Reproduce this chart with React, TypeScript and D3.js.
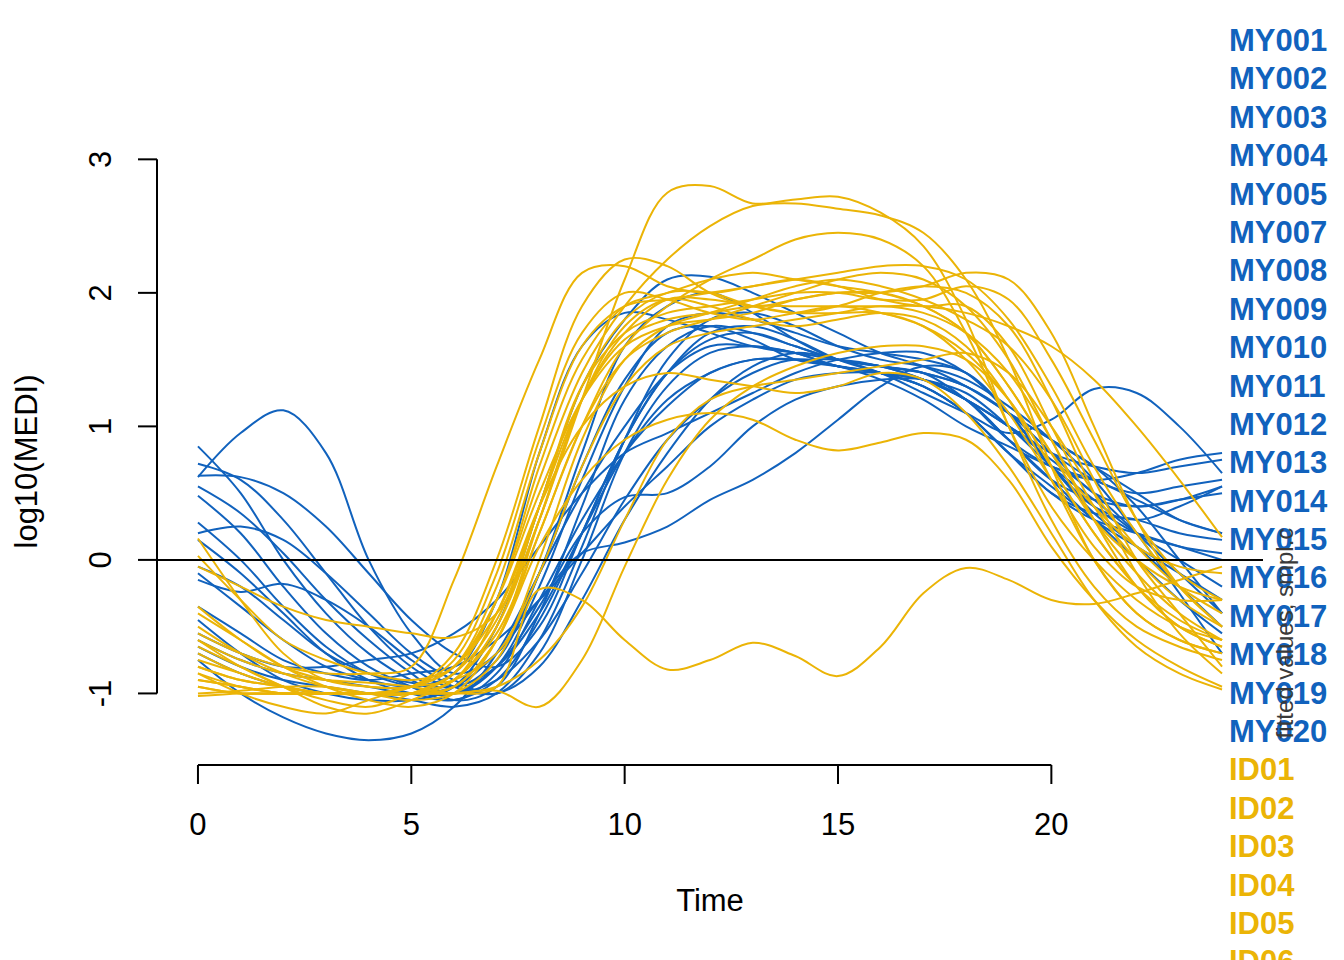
import React from 'react';
import * as d3 from 'd3';

// sampling times (hours) shared by every fitted curve
const times = [0, 1, 2, 3, 4, 5, 6, 7, 8, 9, 10, 11, 12, 13, 14, 15, 16, 17, 18, 19, 20, 21, 22, 23, 24];

const myNames = ['MY001', 'MY002', 'MY003', 'MY004', 'MY005', 'MY007', 'MY008', 'MY009', 'MY010', 'MY011',
  'MY012', 'MY013', 'MY014', 'MY015', 'MY016', 'MY017', 'MY018', 'MY019', 'MY020'];

// only the first six ID labels fit on the page
const idNames = ['ID01', 'ID02', 'ID03', 'ID04', 'ID05', 'ID06'];

// MY group, fitted log10(MEDI)
const myCurves: number[][] = [
  [0.62, 0.95, 1.12, 0.8, 0.0, -0.55, -0.85, -0.7, -0.1, 0.7, 1.35, 1.7, 1.75, 1.65, 1.5, 1.45, 1.4, 1.3, 1.1, 0.8, 0.5, 0.3, 0.2, 0.1, 0.0],
  [-0.75, -1.0, -1.18, -1.3, -1.35, -1.3, -1.1, -0.7, -0.1, 0.5, 1.0, 1.4, 1.6, 1.6, 1.55, 1.45, 1.4, 1.35, 1.2, 0.9, 0.6, 0.3, 0.1, -0.1, -0.3],
  [0.85, 0.5, 0.0, -0.4, -0.7, -0.9, -1.0, -0.8, -0.2, 0.6, 1.3, 1.75, 1.85, 1.8, 1.7, 1.6, 1.55, 1.5, 1.4, 1.1, 0.7, 0.4, 0.3, 0.4, 0.55],
  [0.72, 0.6, 0.3, -0.1, -0.5, -0.8, -0.95, -0.75, -0.1, 0.8, 1.6, 1.9, 2.0, 1.85, 1.65, 1.5, 1.45, 1.4, 1.2, 0.9, 0.7, 0.6, 0.65, 0.75, 0.8],
  [0.63, 0.62, 0.5, 0.25, -0.1, -0.45, -0.7, -0.8, -0.5, 0.2, 0.9, 1.4, 1.65, 1.7, 1.6, 1.5, 1.45, 1.4, 1.3, 1.1, 0.8, 0.5, 0.4, 0.45, 0.55],
  [0.55, 0.35, 0.05, -0.3, -0.6, -0.85, -1.05, -0.95, -0.4, 0.4, 1.2, 1.6, 1.75, 1.7, 1.6, 1.5, 1.45, 1.35, 1.2, 1.0, 0.8, 0.7, 0.65, 0.7, 0.75],
  [0.48, 0.2, -0.2, -0.55, -0.8, -0.95, -1.05, -0.85, -0.3, 0.3, 0.8, 1.15, 1.4, 1.5, 1.5, 1.45, 1.4, 1.3, 1.1, 0.8, 0.5, 0.35, 0.3, 0.2, 0.15],
  [0.28, 0.0, -0.35, -0.65, -0.85, -0.95, -1.0, -0.9, -0.6, -0.1, 0.45, 0.9, 1.2, 1.4, 1.5, 1.45, 1.35, 1.2, 1.0, 0.85, 0.7, 0.6, 0.45, 0.3, 0.2],
  [0.2, 0.25, 0.15, -0.1, -0.4, -0.7, -0.9, -1.0, -0.7, 0.0, 0.8, 1.3, 1.55, 1.6, 1.55, 1.45, 1.4, 1.35, 1.25, 1.0, 0.7, 0.45, 0.2, 0.0, -0.2],
  [0.15, -0.1, -0.4, -0.7, -0.9, -1.0, -1.05, -0.9, -0.45, 0.2, 0.9, 1.4, 1.7, 1.75, 1.65, 1.5, 1.4, 1.3, 1.1, 0.8, 0.55, 0.3, 0.0, -0.3, -0.55],
  [-0.05, -0.2, -0.45, -0.7, -0.85, -0.92, -0.95, -0.8, -0.4, 0.2, 0.8, 1.2, 1.4, 1.5, 1.5, 1.5, 1.45, 1.35, 1.2, 1.0, 0.75, 0.5, 0.2, -0.1, -0.4],
  [-0.15, -0.24, -0.18, -0.3, -0.5, -0.75, -0.95, -1.0, -0.8, -0.3, 0.3, 0.8, 1.2, 1.45, 1.55, 1.5, 1.4, 1.25, 1.1, 0.95, 1.05, 1.28, 1.25, 1.0, 0.65],
  [-0.35, -0.55, -0.75, -0.85, -0.9, -0.85, -0.8, -0.6, -0.3, 0.05, 0.4, 0.7, 1.0, 1.2, 1.35, 1.4, 1.4, 1.35, 1.2, 1.0, 0.8, 0.6, 0.5, 0.55, 0.6],
  [-0.6, -0.75, -0.85, -0.9, -0.95, -1.0, -0.95, -0.7, -0.3, 0.05, 0.13, 0.25, 0.45, 0.6, 0.8, 1.05, 1.3, 1.45, 1.4, 1.1, 0.7, 0.4, 0.2, 0.1, 0.05],
  [-0.7, -0.85, -0.95, -1.0, -1.0, -1.0, -1.0, -0.8, -0.35, 0.2, 0.47, 0.5, 0.7, 1.0, 1.2, 1.3, 1.35, 1.35, 1.2, 0.9, 0.6, 0.45, 0.4, 0.45, 0.5],
  [-0.55, -0.7, -0.8, -0.8, -0.75, -0.7, -0.55, -0.3, 0.1, 0.5, 0.8, 0.95, 1.1, 1.25, 1.4, 1.5, 1.55, 1.55, 1.4, 1.1, 0.7, 0.35, 0.1, -0.2, -0.5],
  [-0.45, -0.7, -0.9, -1.0, -1.05, -1.05, -0.95, -0.5, 0.4, 1.3, 1.8, 2.1, 2.12, 2.0, 1.85, 1.7, 1.55, 1.45, 1.3, 1.1, 0.9, 0.7, 0.4, 0.0, -0.4],
  [-0.1, -0.35, -0.6, -0.8, -0.9, -0.95, -0.85, -0.3, 0.8, 1.6, 1.85, 1.8, 1.7, 1.6, 1.55, 1.5, 1.45, 1.4, 1.3, 1.1, 0.9, 0.7, 0.5, 0.3, 0.2],
  [-0.65, -0.8, -0.9, -0.95, -1.0, -1.05, -1.1, -1.0, -0.6, 0.1, 0.9, 1.5, 1.8, 1.85, 1.75, 1.6, 1.5, 1.45, 1.35, 1.15, 0.9, 0.6, 0.2, -0.25, -0.7],
];

// ID group, fitted log10(MEDI)
const idCurves: number[][] = [
  [-0.7, -0.85, -0.95, -1.0, -1.0, -1.0, -0.9, -0.5, 0.3, 1.2, 2.1, 2.75, 2.8, 2.67, 2.7, 2.72, 2.6, 2.35, 1.8, 1.0, 0.3, -0.2, -0.5, -0.65, -0.75],
  [-0.5, -0.7, -0.85, -0.95, -1.0, -1.0, -0.85, -0.3, 0.6, 1.4, 1.9, 2.25, 2.5, 2.65, 2.67, 2.63, 2.58, 2.45, 2.1, 1.5, 0.7, 0.0, -0.4, -0.6, -0.7],
  [-0.55, -0.7, -0.8, -0.85, -0.85, -0.8, -0.15, 0.7, 1.5, 2.15, 2.2, 2.05, 2.0, 2.05, 2.1, 2.05, 1.95, 1.9, 1.9, 1.6, 1.0, 0.4, 0.0, -0.3, -0.5],
  [-0.8, -0.9, -0.95, -1.0, -1.0, -0.95, -0.7, 0.0, 1.0, 1.9, 2.25, 2.2, 2.0, 1.9, 1.95, 2.0, 2.0, 1.9, 1.7, 1.3, 0.8, 0.3, 0.0, -0.2, -0.3],
  [-0.9, -0.95, -1.0, -1.0, -1.0, -0.95, -0.75, -0.1, 0.9, 1.7, 2.0, 1.95, 1.85, 1.8, 1.85, 1.9, 1.85, 1.75, 1.55, 1.2, 0.7, 0.2, -0.2, -0.45, -0.6],
  [-0.35, -0.6, -0.8, -0.9, -0.95, -0.95, -0.8, -0.2, 0.8, 1.6, 1.9, 1.95, 2.0, 2.05, 2.1, 2.15, 2.2, 2.2, 2.1, 1.8, 1.3, 0.7, 0.2, -0.2, -0.5],
  [-0.95, -1.0, -1.0, -1.0, -1.0, -1.0, -0.95, -0.6, 0.2, 1.0, 1.6, 1.9, 2.1, 2.25, 2.4, 2.45, 2.4, 2.2, 1.7, 1.0, 0.4, 0.0, -0.3, -0.5, -0.6],
  [-0.6, -0.75, -0.85, -0.9, -0.92, -0.95, -1.0, -0.95, -0.22, -0.3, -0.6, -0.82, -0.75, -0.62, -0.72, -0.87, -0.65, -0.25, -0.06, -0.15, -0.3, -0.33, -0.25, -0.15, -0.05],
  [-0.9, -0.95, -1.0, -1.0, -1.0, -1.0, -1.0, -0.98, -1.1, -0.75, -0.05, 0.6, 1.05, 1.3, 1.45, 1.55, 1.6, 1.6, 1.5, 1.2, 0.7, 0.2, -0.2, -0.5, -0.65],
  [-0.75, -0.85, -0.95, -1.0, -1.0, -1.0, -1.0, -0.95, -0.75, -0.35, 0.3, 0.9, 1.2, 1.3, 1.35, 1.4, 1.45, 1.5, 1.55, 1.4, 1.0, 0.5, 0.1, -0.2, -0.4],
  [-0.95, -1.0, -1.0, -1.0, -1.0, -1.0, -0.95, -0.6, 0.1, 0.6, 0.9, 1.05, 1.1, 1.05, 0.9, 0.82, 0.88, 0.95, 0.9, 0.6, 0.1, -0.3, -0.6, -0.8, -0.95],
  [-1.02, -1.0, -1.0, -1.0, -1.0, -1.0, -0.9, -0.4, 0.4, 1.0, 1.3, 1.4, 1.35, 1.3, 1.25, 1.3, 1.4, 1.35, 1.1, 0.7, 0.2, -0.3, -0.65, -0.85, -0.97],
  [-0.85, -0.95, -1.0, -1.0, -1.0, -0.95, -0.8, -0.3, 0.5, 1.2, 1.6, 1.75, 1.8, 1.85, 1.95, 2.0, 2.0, 2.05, 2.15, 2.1, 1.7, 1.0, 0.3, -0.2, -0.5],
  [-0.8, -0.9, -0.95, -1.0, -1.0, -1.0, -0.9, -0.5, 0.4, 1.3, 1.7, 1.85, 1.9, 1.95, 2.0, 2.0, 1.95, 1.95, 2.05, 1.95, 1.5, 0.9, 0.3, -0.1, -0.3],
  [0.16, -0.3, -0.7, -0.9, -0.95, -0.95, -0.8, -0.4, 0.4, 1.2, 1.65, 1.8, 1.85, 1.9, 1.9, 1.9, 1.9, 1.9, 1.85, 1.75, 1.6, 1.35, 1.0, 0.6, 0.17],
  [0.03, -0.3, -0.6, -0.75, -0.85, -0.9, -0.8, -0.3, 0.7, 1.5, 1.9, 2.0, 2.1, 2.15, 2.1, 2.05, 2.0, 1.9, 1.7, 1.3, 0.8, 0.4, 0.1, -0.05, -0.1],
  [-0.05, -0.2, -0.35, -0.45, -0.5, -0.55, -0.58, -0.4, 0.3, 1.2, 1.7, 1.95, 1.95, 1.9, 1.85, 1.85, 1.85, 1.75, 1.5, 1.1, 0.6, 0.1, -0.2, -0.3, -0.3],
  [-0.4, -0.6, -0.8, -0.95, -1.05, -1.1, -1.0, -0.6, 0.3, 1.2, 1.75, 1.95, 1.9, 1.8, 1.75, 1.8, 1.85, 1.8, 1.6, 1.2, 0.6, 0.0, -0.4, -0.6, -0.7],
  [-0.65, -0.8, -0.95, -1.1, -1.15, -1.05, -0.9, -0.55, 0.2, 1.0, 1.5, 1.7, 1.8, 1.9, 2.0, 2.1, 2.15, 2.1, 1.9, 1.5, 0.9, 0.3, -0.1, -0.4, -0.6],
  [-0.85, -1.0, -1.1, -1.15, -1.05, -0.95, -0.9, -0.7, -0.1, 0.7, 1.3, 1.6, 1.7, 1.75, 1.8, 1.85, 1.9, 1.85, 1.7, 1.4, 0.9, 0.3, -0.2, -0.5, -0.65],
  [-1.0, -0.98, -0.95, -0.95, -1.0, -1.05, -1.0, -0.75, 0.0, 0.9, 1.5, 1.75, 1.85, 1.95, 2.05, 2.1, 2.05, 1.95, 1.8, 1.6, 1.2, 0.6, 0.0, -0.4, -0.8],
  [-0.6, -0.8, -0.95, -1.05, -1.1, -1.0, -0.85, -0.45, 0.4, 1.3, 1.8, 2.0, 2.0, 1.9, 1.85, 1.9, 2.0, 2.05, 2.0, 1.75, 1.2, 0.5, -0.1, -0.55, -0.85],
];

const xTicks = [0, 5, 10, 15, 20];
const yTicks = [-1, 0, 1, 2, 3];

const BLUE = '#1162BD';
const GOLD = '#EBB406';
const FONT = '"Liberation Sans", Arial, Helvetica, sans-serif';

export default function App() {
  const width = 1344;
  const height = 960;

  const x = d3.scaleLinear().domain([-0.96, 24.96]).range([157, 1263]);
  const y = d3.scaleLinear().domain([-1.536, 3.01]).range([765, 158]);

  const line = d3.line<number>()
    .x((_, i) => x(times[i]))
    .y(d => y(d))
    .curve(d3.curveCatmullRom.alpha(0.5));

  const labels = [
    ...myNames.map(n => ({ name: n, color: BLUE })),
    ...idNames.map(n => ({ name: n, color: GOLD })),
  ];

  return (
    <svg width={width} height={height} style={{ position: 'absolute', left: 0, top: 0, background: '#fff' }}
      fontFamily={FONT}>
      <rect width={width} height={height} fill="#fff" />

      {/* curves */}
      <g fill="none" strokeWidth={2}>
        {myCurves.map((c, i) => <path key={'my' + i} d={line(c) || ''} stroke={BLUE} />)}
        {idCurves.map((c, i) => <path key={'id' + i} d={line(c) || ''} stroke={GOLD} />)}
      </g>

      {/* zero reference line */}
      <line x1={x.range()[0]} x2={x.range()[1]} y1={y(0)} y2={y(0)} stroke="#000" strokeWidth={2} />

      {/* y axis */}
      <g stroke="#000" strokeWidth={2}>
        <line x1={157} x2={157} y1={y(-1)} y2={y(3)} />
        {yTicks.map(t => <line key={t} x1={138} x2={157} y1={y(t)} y2={y(t)} />)}
      </g>
      {yTicks.map(t => (
        <text key={t} transform={`translate(111,${y(t)}) rotate(-90)`} textAnchor="middle" fontSize={31} fill="#000">
          {t}
        </text>
      ))}
      <text transform={`translate(37,${(158 + 765) / 2}) rotate(-90)`} textAnchor="middle" fontSize={31} fill="#000">
        log10(MEDI)
      </text>

      {/* x axis */}
      <g stroke="#000" strokeWidth={2}>
        <line x1={x(0)} x2={x(20)} y1={765} y2={765} />
        {xTicks.map(t => <line key={t} x1={x(t)} x2={x(t)} y1={765} y2={784} />)}
      </g>
      {xTicks.map(t => (
        <text key={t} x={x(t)} y={835} textAnchor="middle" fontSize={31} fill="#000">{t}</text>
      ))}
      <text x={(157 + 1263) / 2} y={911} textAnchor="middle" fontSize={31} fill="#000">Time</text>

      {/* legend */}
      {labels.map((l, i) => (
        <text key={l.name} x={1229} y={51 + i * 38.39} fontSize={31} fontWeight="bold" fill={l.color}>
          {l.name}
        </text>
      ))}

      {/* stray vertical title, drawn over the legend */}
      <text transform="translate(1293,633) rotate(-90)" textAnchor="middle" fontSize={24} fill="#3a3a3a">
        fitted values, smpl.c
      </text>
    </svg>
  );
}
